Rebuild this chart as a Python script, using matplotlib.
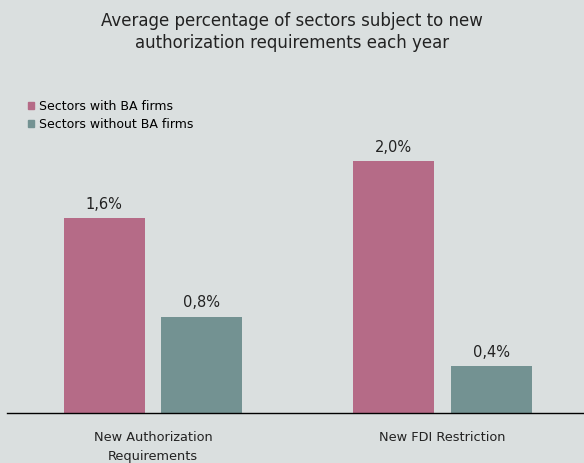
import numpy as np
import matplotlib.pyplot as plt
from matplotlib.patches import Patch

categories = ["New Authorization\nRequirements", "New FDI Restriction"]
series_names = ["Sectors with BA firms", "Sectors without BA firms"]
with_ba = [1.58, 2.04]
without_ba = [0.78, 0.38]

bg = "#dadfdf"
colors = ["#b56b87", "#739292"]

fig = plt.figure(figsize=(5.84, 4.63), dpi=100, facecolor=bg)
ax = fig.add_axes([7 / 584, 1 - 413 / 463, 577 / 584, 283 / 463], facecolor=bg)

x = np.arange(len(categories))
w = 0.28
off = 0.168
for vals, sign, c in [(with_ba, -1, colors[0]), (without_ba, 1, colors[1])]:
    bars = ax.bar(x + sign * off, vals, w, color=c)
    for b, v in zip(bars, vals):
        ax.text(b.get_x() + b.get_width() / 2, v + 0.05, f"{v:.1f}%".replace(".", ","),
                ha="center", va="bottom", fontsize=10.5, color="#222222")

ax.set_xlim(-0.504, 1.489)
ax.set_ylim(0, 2.29)
ax.set_xticks(x)
ax.set_xticklabels(categories, fontsize=9.3, color="#222222", linespacing=1.55)
ax.tick_params(axis="x", length=0, pad=13)
ax.set_yticks([])
for s in ["top", "right", "left"]:
    ax.spines[s].set_visible(False)
ax.spines["bottom"].set_color("black")
ax.spines["bottom"].set_linewidth(1)

fig.text(0.5, 1 - 32 / 463, "Average percentage of sectors subject to new\nauthorization requirements each year",
         ha="center", va="center", fontsize=12, color="#222222", linespacing=1.3)

handles = [Patch(color=c) for c in colors]
fig.legend(handles, series_names, loc="upper left", bbox_to_anchor=(28 / 584, 1 - 100 / 463),
           frameon=False, fontsize=9, handlelength=0.5, handleheight=0.5,
           handletextpad=0.35, labelspacing=0.38, borderaxespad=0, borderpad=0)

fig.savefig("out.png", facecolor=bg)
